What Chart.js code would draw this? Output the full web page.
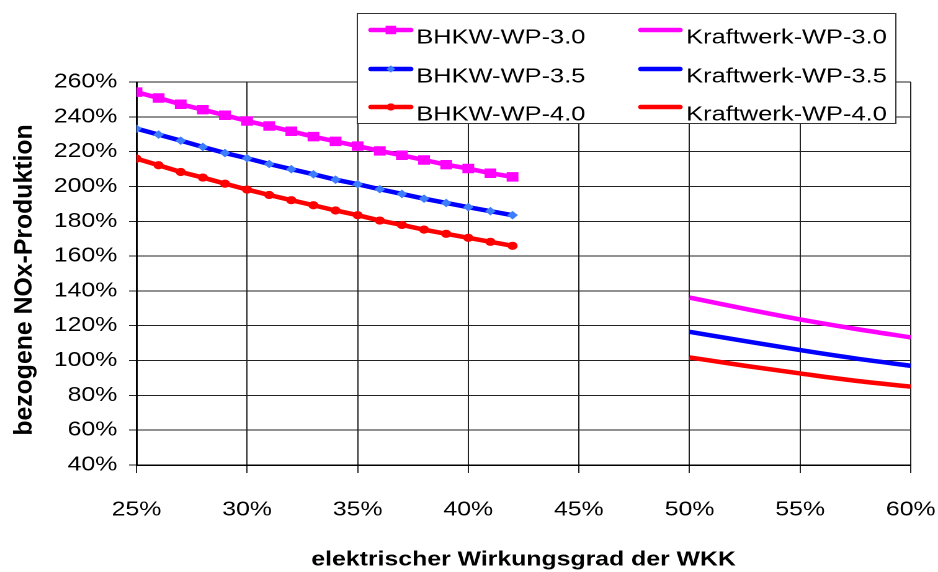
<!DOCTYPE html>
<html>
<head>
<meta charset="utf-8">
<script src="https://cdn.jsdelivr.net/npm/chart.js@4.4.1/dist/chart.umd.min.js"></script>
<style>
  body { margin: 0; background: #fff; }
</style>
</head>
<body>
<!-- the original picture is stretched sideways, so the chart is laid out 756 wide and shown 938 wide -->
<canvas id="chart" width="756" height="572" style="display:block;width:938px;height:572px"></canvas>
<script>
const SX = 938 / 756;

const bhkwX = [25, 26, 27, 28, 29, 30, 31, 32, 33, 34, 35, 36, 37, 38, 39, 40, 41, 42];
const bhkw30 = [254.2, 250.8, 247.2, 244.1, 240.9, 237.6, 234.7, 231.7, 228.6, 225.9, 223.2, 220.4, 217.9, 215.2, 212.5, 210.3, 207.6, 205.5];
const bhkw35 = [233.2, 229.8, 226.3, 222.7, 219.2, 216.2, 212.9, 209.9, 207.0, 203.9, 201.3, 198.4, 195.7, 193.0, 190.5, 188.1, 185.8, 183.5];
const bhkw40 = [216.0, 212.2, 208.3, 205.1, 201.6, 198.2, 195.1, 192.1, 189.2, 186.2, 183.5, 180.4, 177.9, 175.2, 172.8, 170.5, 168.2, 165.9];

const kwX = [50, 52.5, 55, 57.5, 60];
const kw30 = [136.2, 129.7, 123.6, 118.2, 113.3];
const kw35 = [116.5, 111.2, 106.0, 101.2, 97.0];
const kw40 = [101.8, 97.0, 92.6, 88.4, 85.0];

const seriesNames = ['BHKW-WP-3.0', 'BHKW-WP-3.5', 'BHKW-WP-4.0', 'Kraftwerk-WP-3.0', 'Kraftwerk-WP-3.5', 'Kraftwerk-WP-4.0'];
const yTitle = 'bezogene NOx-Produktion';
const xTitle = 'elektrischer Wirkungsgrad der WKK';

const FONT = '"Liberation Sans", Arial, sans-serif';
Chart.defaults.font.family = FONT;
Chart.defaults.color = '#000';

function pts(xs, ys) {
  return xs.map((x, i) => ({ x: x, y: ys[i] }));
}

function bhkw(label, ys, color, style, radius, markColor) {
  return {
    label: label,
    data: pts(bhkwX, ys),
    borderColor: color,
    backgroundColor: markColor,
    borderWidth: 4.5,
    pointStyle: style,
    pointRadius: radius,
    pointBorderWidth: 1,
    pointBorderColor: markColor,
    pointBackgroundColor: markColor
  };
}

function kw(label, ys, color) {
  return {
    label: label,
    data: pts(kwX, ys),
    borderColor: color,
    backgroundColor: color,
    borderWidth: 4.5,
    pointRadius: 0,
    cubicInterpolationMode: 'monotone'
  };
}

const datasets = [
  bhkw(seriesNames[0], bhkw30, '#ff00ff', 'rect', 6, '#ff00ff'),
  bhkw(seriesNames[1], bhkw35, '#0000ff', 'rectRot', 3.6, '#3d7dff'),
  bhkw(seriesNames[2], bhkw40, '#ff0000', 'circle', 3.6, '#ff0000'),
  kw(seriesNames[3], kw30, '#ff00ff'),
  kw(seriesNames[4], kw35, '#0000ff'),
  kw(seriesNames[5], kw40, '#ff0000')
];

function marker(ctx, style, x, y, r, color) {
  ctx.fillStyle = color;
  ctx.beginPath();
  if (style === 'rect') {
    const s = r * Math.SQRT1_2;
    ctx.rect(x - s, y - s, 2 * s, 2 * s);
  } else if (style === 'rectRot') {
    ctx.moveTo(x, y - r);
    ctx.lineTo(x + r, y);
    ctx.lineTo(x, y + r);
    ctx.lineTo(x - r, y);
    ctx.closePath();
  } else {
    ctx.arc(x, y, r, 0, Math.PI * 2);
  }
  ctx.fill();
}

// legend box laid over the plot and the rotated y title
const overlay = {
  id: 'overlay',
  afterDraw(chart) {
    const ctx = chart.ctx;
    ctx.save();
    ctx.fillStyle = '#fff';
    ctx.fillRect(288, 13.5, 434, 110);
    ctx.strokeStyle = '#333';
    ctx.lineWidth = 1;
    ctx.strokeRect(288, 13.5, 434, 110);

    const lineY = [30, 69, 107];
    const textY = [38, 77, 115];
    const cols = [{ x0: 299, x1: 331, tx: 335.5 }, { x0: 516.5, x1: 548, tx: 553 }];
    chart.data.datasets.forEach((ds, i) => {
      const c = cols[Math.floor(i / 3)];
      const row = i % 3;
      ctx.strokeStyle = ds.borderColor;
      ctx.lineWidth = 4.5;
      ctx.lineCap = 'round';
      ctx.beginPath();
      ctx.moveTo(c.x0, lineY[row]);
      ctx.lineTo(c.x1, lineY[row]);
      ctx.stroke();
      if (ds.pointRadius > 0) {
        marker(ctx, ds.pointStyle, (c.x0 + c.x1) / 2, lineY[row], ds.pointRadius, ds.pointBackgroundColor);
      }
      ctx.fillStyle = '#000';
      ctx.font = '20.5px ' + FONT;
      ctx.textBaseline = 'middle';
      ctx.textAlign = 'left';
      ctx.fillText(ds.label, c.tx, textY[row]);
    });

    // y title, undone from the sideways stretch
    ctx.translate(25 / SX, 280);
    ctx.scale(1 / SX, 1);
    ctx.rotate(-Math.PI / 2);
    ctx.font = 'bold 24.8px ' + FONT;
    ctx.textAlign = 'center';
    ctx.textBaseline = 'middle';
    ctx.fillStyle = '#000';
    ctx.fillText(yTitle, 0, 0);
    ctx.restore();
  }
};

new Chart(document.getElementById('chart'), {
  type: 'line',
  data: { datasets: datasets },
  options: {
    responsive: false,
    devicePixelRatio: 2,
    animation: false,
    layout: { padding: { top: 82, right: 22, left: 0, bottom: 0 } },
    plugins: { legend: { display: false }, tooltip: { enabled: false } },
    scales: {
      x: {
        type: 'linear',
        min: 25,
        max: 60,
        afterFit(s) {
          s.height = 107;
          s.paddingLeft = 0;
          s.paddingRight = 0;
        },
        ticks: {
          stepSize: 5,
          maxRotation: 0,
          padding: 25,
          font: { size: 20 },
          callback: v => v + '%'
        },
        grid: { color: '#222', lineWidth: 1, tickLength: 8 },
        border: { color: '#000', width: 1.5 },
        title: {
          display: true,
          text: xTitle,
          font: { size: 20, weight: 'bold' },
          padding: { top: 0, bottom: 0 }
        }
      },
      y: {
        min: 40,
        max: 260,
        afterFit(s) {
          s.width = 110;
          s.paddingTop = 0;
          s.paddingBottom = 0;
        },
        ticks: {
          stepSize: 20,
          padding: 9.5,
          font: { size: 20 },
          callback: v => v + '%'
        },
        grid: { color: '#222', lineWidth: 1, tickLength: 6 },
        border: { color: '#000', width: 1.5 }
      }
    }
  },
  plugins: [overlay]
});
</script>
</body>
</html>
